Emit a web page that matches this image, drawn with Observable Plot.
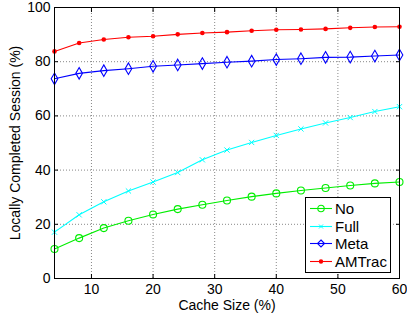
<!DOCTYPE html>
<html><head><meta charset="utf-8">
<script src="https://cdn.jsdelivr.net/npm/d3@7"></script>
<script src="https://cdn.jsdelivr.net/npm/@observablehq/plot@0.6"></script>
<style>
body{margin:0;background:#fff;font-family:"Liberation Sans",Arial,sans-serif;}
#wrap{position:relative;width:407px;height:320px;}
#legend{position:absolute;left:305px;top:197px;width:84px;height:74px;border:1px solid #000;background:#fff;font-size:15px;}
#legend .row{position:absolute;left:0;height:17px;line-height:17px;}
#legend svg{position:absolute;left:4px;top:0;}
#legend span{position:absolute;left:29px;top:0;white-space:nowrap;}
</style></head>
<body><div id="wrap"></div>
<script>
const cacheSize = [4, 8, 12, 16, 20, 24, 28, 32, 36, 40, 44, 48, 52, 56, 60];
const noVals     = [10.9, 14.9, 18.6, 21.3, 23.6, 25.6, 27.2, 28.8, 30.2, 31.4, 32.5, 33.4, 34.3, 35.1, 35.6];
const fullVals   = [17.1, 23.5, 28.3, 32.3, 35.6, 39.1, 43.8, 47.4, 50.2, 52.8, 55.2, 57.4, 59.4, 61.6, 63.4];
const metaVals   = [73.7, 75.7, 76.7, 77.4, 78.3, 78.8, 79.3, 79.8, 80.2, 80.8, 81.1, 81.6, 81.7, 82.1, 82.5];
const amtracVals = [83.8, 86.9, 88.2, 89.0, 89.4, 90.1, 90.6, 90.9, 91.4, 91.8, 91.9, 92.1, 92.5, 92.8, 92.9];
const seriesNames = ["No", "Full", "Meta", "AMTrac"];
const seriesColors = ["#00ee00", "#00ffff", "#0000ff", "#ff0000"];
const xTicks = [10, 20, 30, 40, 50, 60];
const yTicks = [0, 20, 40, 60, 80, 100];

const allVals = [noVals, fullVals, metaVals, amtracVals];
const rows = seriesNames.map((name, i) => cacheSize.map((x, j) => ({series: name, x, y: allVals[i][j]})));
const [noR, fullR, metaR, amR] = rows;

const chart = Plot.plot({
  width: 407, height: 320,
  marginLeft: 54, marginRight: 8, marginTop: 7, marginBottom: 42,
  style: {fontFamily: '"Liberation Sans", Arial, sans-serif', fontSize: "14px", color: "#000", background: "#fff"},
  x: {domain: [4, 60]},
  y: {domain: [0, 100]},
  marks: [
    Plot.gridX(xTicks, {stroke: "#555", strokeOpacity: 0.7, strokeDasharray: "1,2"}),
    Plot.gridY(yTicks, {stroke: "#555", strokeOpacity: 0.7, strokeDasharray: "1,2"}),
    Plot.axisX(xTicks, {anchor: "bottom", tickSize: -4, tickPadding: 10, fontSize: 14, label: "Cache Size (%)", labelAnchor: "center", labelOffset: 31, labelArrow: "none"}),
    Plot.axisX(xTicks, {anchor: "top", tickSize: -4, tickFormat: () => "", label: null}),
    Plot.axisY(yTicks, {anchor: "left", tickSize: -4, tickPadding: 8, fontSize: 14, label: "Locally Completed Session (%)", labelAnchor: "center", labelOffset: 44, labelArrow: "none"}),
    Plot.axisY(yTicks, {anchor: "right", tickSize: -4, tickFormat: () => "", label: null}),
    Plot.line(noR, {x: "x", y: "y", stroke: seriesColors[0], strokeWidth: 1.1}),
    Plot.dot(noR, {x: "x", y: "y", stroke: seriesColors[0], r: 3.5, strokeWidth: 1.1}),
    Plot.line(fullR, {x: "x", y: "y", stroke: seriesColors[1], strokeWidth: 1.1}),
    Plot.dot(fullR, {x: "x", y: "y", stroke: seriesColors[1], symbol: "times", r: 2.5, strokeWidth: 1}),
    Plot.line(metaR, {x: "x", y: "y", stroke: seriesColors[2], strokeWidth: 1.1}),
    Plot.dot(metaR, {x: "x", y: "y", stroke: seriesColors[2], symbol: "diamond", r: 3.5, strokeWidth: 1.1}),
    Plot.line(amR, {x: "x", y: "y", stroke: seriesColors[3], strokeWidth: 1.1}),
    Plot.dot(amR, {x: "x", y: "y", fill: seriesColors[3], r: 2.3}),
    Plot.frame({stroke: "#000", strokeWidth: 1})
  ]
});
const wrap = document.getElementById("wrap");
wrap.appendChild(chart);

const legend = document.createElement("div");
legend.id = "legend";
const symbols = ["circle", "times", "diamond", "dot"];
seriesNames.forEach((name, i) => {
  const row = document.createElement("div");
  row.className = "row";
  row.style.top = (2 + i * 17.5) + "px";
  row.style.width = "84px";
  const c = seriesColors[i];
  let sym = "";
  if (symbols[i] === "circle") sym = `<circle cx="11" cy="8.5" r="3.2" fill="none" stroke="${c}" stroke-width="1.1"/>`;
  else if (symbols[i] === "times") sym = `<path d="M9,6.5L13,10.5M13,6.5L9,10.5" stroke="${c}" stroke-width="1"/>`;
  else if (symbols[i] === "diamond") sym = `<path d="M11,5L14.5,8.5L11,12L7.5,8.5Z" fill="none" stroke="${c}" stroke-width="1.1"/>`;
  else sym = `<circle cx="11" cy="8.5" r="2.2" fill="${c}"/>`;
  row.innerHTML = `<svg width="24" height="17"><line x1="0" x2="22" y1="8.5" y2="8.5" stroke="${c}" stroke-width="1.1"/>${sym}</svg><span>${name}</span>`;
  legend.appendChild(row);
});
wrap.appendChild(legend);
</script></body></html>
